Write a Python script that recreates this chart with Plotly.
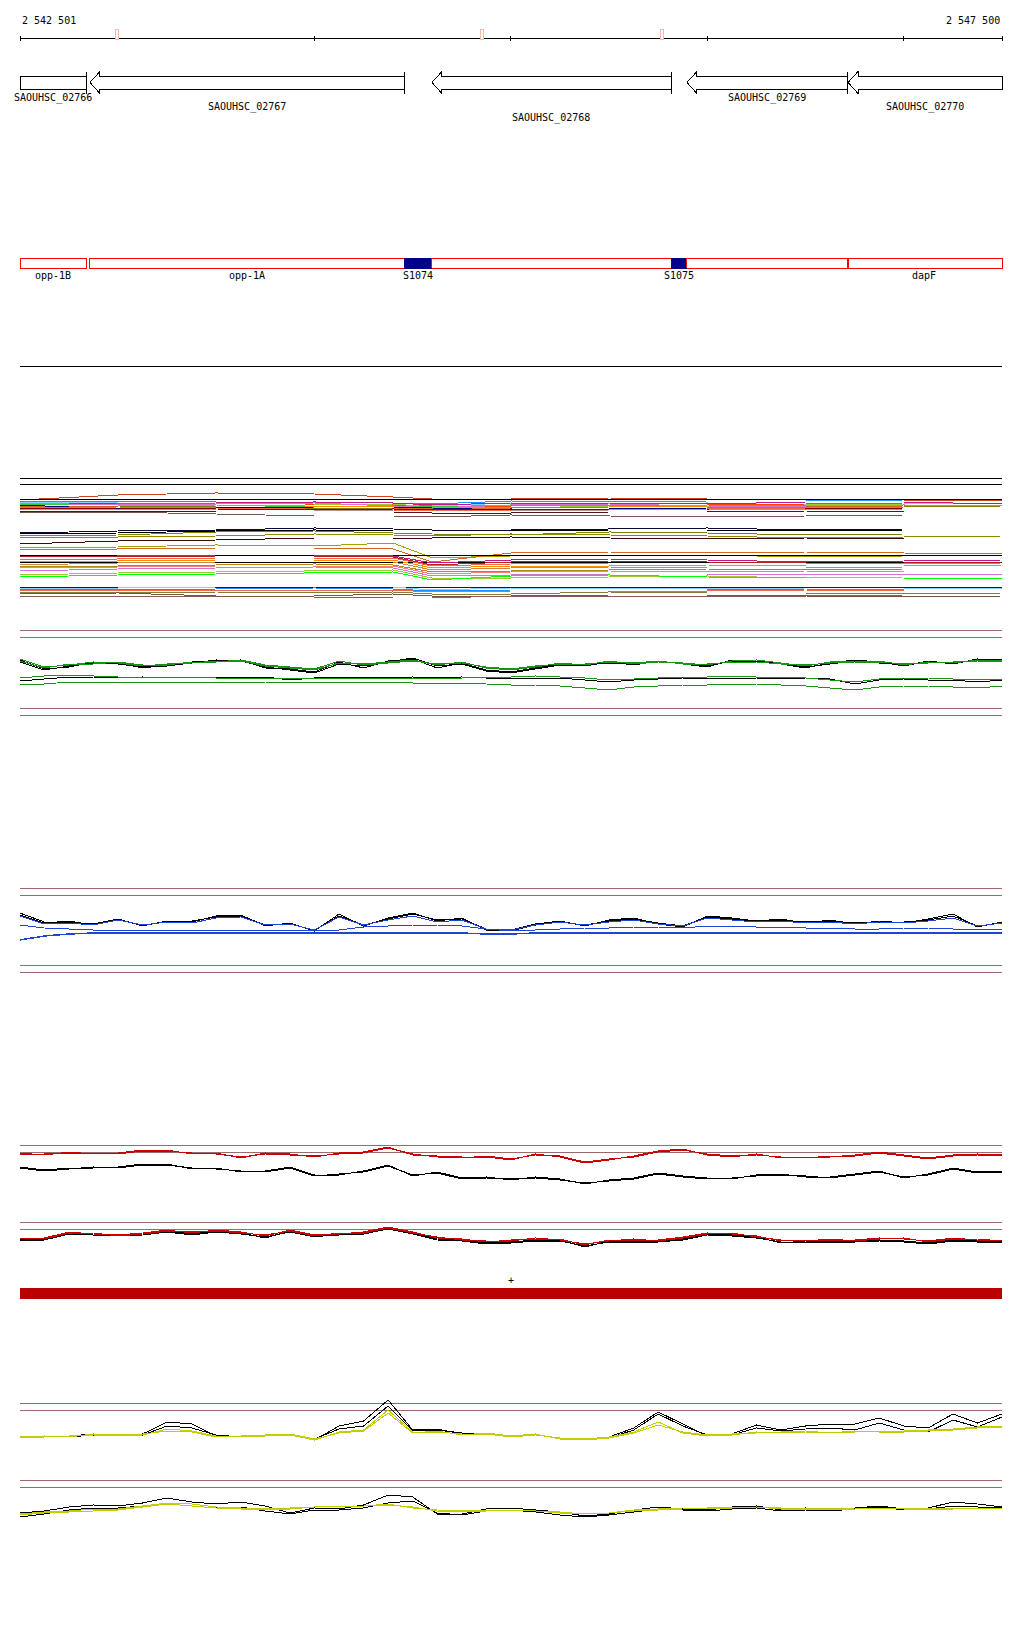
import plotly.graph_objects as go

W, H = 1024, 1640
X0, X1 = 2542501, 2547500

# ---------------- ruler ----------------
RULER_TICKS = [2542501, 2544000, 2545000, 2546000, 2547000, 2547500]
RULER_LEFT_LABEL = "2 542 501"
RULER_RIGHT_LABEL = "2 547 500"
RULER_MARKS = [2542995, 2544853, 2545768]

# ---------------- genes (reverse strand) ----------------
GENE_NAMES = ["SAOUHSC_02766", "SAOUHSC_02767", "SAOUHSC_02768", "SAOUHSC_02769", "SAOUHSC_02770"]
GENE_LEFT = [2542501, 2542857, 2544598, 2545896, 2546716]
GENE_RIGHT = [2542842, 2544456, 2545815, 2546711, 2547500]
GENE_HAS_HEAD = [False, True, True, True, True]
GENE_HAS_START = [True, True, True, True, False]

# ---------------- features ----------------
FEAT_NAMES = ["opp-1B", "opp-1A", "dapF"]
FEAT_LEFT = [2542501, 2542857, 2546721]
FEAT_RIGHT = [2542842, 2546711, 2547500]
FEAT_LABEL_X = [2542669, 2543657, 2547103]
SRNA_NAMES = ["S1074", "S1075"]
SRNA_LEFT = [2544456, 2545815]
SRNA_RIGHT = [2544598, 2545896]

# ---------------- multi-colour track ----------------
COLOR_X = [2542501, 2543000, 2543500, 2544000, 2544400, 2544600, 2545000,
           2545500, 2546000, 2546500, 2547000, 2547500]
COLOR_LINE_COLORS = [
    "#000000", "#000000", "#CC4422", "#000000", "#1E90FF", "#87CEFA", "#FF4500",
    "#C71585", "#9ACD32", "#32CD32", "#DA70D6", "#FF8C00", "#808000", "#D2691E",
    "#000080", "#FF6347", "#8B0000", "#BC8F8F", "#4A1A1A", "#795548",
    "#0A0A33", "#000000", "#808000", "#8B8B00", "#3B0A0A",
    "#A0A000", "#D2691E", "#000000", "#000000", "#C71585", "#B22222", "#FF6347",
    "#FF8C00", "#CD853F", "#B8860B", "#FA8072", "#DA70D6", "#9ACD32", "#00FF00",
    "#1A1A40", "#87CEFA", "#1E90FF", "#FF6347", "#808040", "#795548", "#8B5A5A",
]
COLOR_LINE_VALUES = [
    [122] * 12,
    [116] * 12,
    [100, 105, 107, 106, 103, 101, 101, 102, 101, 100, 100, 100],
    [101] * 12,
    [99, 99, 98, 98, 97, 96, 99, 98, 99, 99, 100, 100],
    [98, 97, 97, 96, 95, 94, 97, 96, 97, 95, 96, 97],
    [97, 96, 97, 96, 95, 94, 94, 95, 95, 96, 97, 97],
    [96, 97, 97, 98, 97, 95, 97, 97, 96, 98, 98, 96],
    [95, 96, 95, 95, 96, 93, 92, 94, 93, 95, 96, 96],
    [96, 96, 95, 93, 94, 93, 95, 94, 95, 94, 94, 95],
    [97, 95, 96, 97, 94, 92, 95, 96, 94, 93, 95, 94],
    [94, 94, 95, 94, 93, 92, 93, 93, 94, 94, 95, 95],
    [93, 94, 93, 92, 91, 90, 91, 91, 92, 92, 93, 94],
    [94, 93, 93, 92, 92, 91, 92, 93, 93, 93, 94, 94],
    [95, 91, 92, 93, 93, 92, 90, 91, 92, 91, 92, 92],
    [92, 93, 92, 91, 90, 89, 90, 91, 91, 92, 93, 93],
    [91, 92, 91, 90, 91, 90, 91, 90, 90, 91, 92, 92],
    [91, 91, 90, 90, 89, 89, 89, 90, 91, 90, 91, 91],
    [89, 89, 88, 88, 88, 87, 87, 88, 88, 89, 88, 88],
    [88, 88, 86, 84, 84, 83, 85, 84, 83, 84, 85, 85],
    [67, 69, 70, 72, 71, 70, 70, 71, 72, 70, 71, 71],
    [66, 67, 69, 70, 69, 69, 69, 70, 70, 69, 70, 70],
    [64, 65, 68, 69, 67, 66, 65, 68, 67, 65, 66, 66],
    [63, 63, 64, 66, 65, 64, 66, 65, 64, 62, 63, 64],
    [56, 59, 60, 62, 62, 62, 63, 62, 61, 62, 61, 61],
    [52, 53, 55, 54, 57, 42, 44, 45, 45, 43, 44, 44],
    [50, 51, 52, 52, 51, 38, 47, 48, 47, 48, 47, 46],
    [45] * 12,
    [38] * 12,
    [43, 44, 45, 45, 44, 37, 40, 41, 40, 38, 39, 40],
    [44, 43, 44, 44, 43, 35, 38, 39, 38, 37, 37, 38],
    [40, 41, 42, 42, 42, 34, 36, 37, 37, 37, 36, 37],
    [38, 39, 40, 40, 40, 32, 34, 34, 35, 34, 34, 35],
    [35, 37, 38, 38, 38, 30, 32, 33, 32, 32, 33, 33],
    [34, 34, 35, 36, 35, 28, 29, 30, 31, 30, 31, 31],
    [32, 33, 34, 34, 34, 26, 28, 29, 28, 29, 28, 28],
    [29, 31, 32, 33, 32, 24, 25, 26, 26, 26, 26, 25],
    [25, 27, 28, 29, 30, 22, 22, 23, 24, 22, 23, 23],
    [23, 25, 26, 27, 28, 20, 24, 25, 23, 22, 22, 21],
    [13] * 12,
    [12, 12, 13, 13, 13, 10, 12, 12, 11, 12, 12, 11],
    [11, 10, 11, 12, 11, 9, 10, 10, 10, 11, 10, 10],
    [10, 10, 10, 10, 10, 8, 9, 9, 9, 10, 9, 9],
    [8, 7, 8, 7, 8, 6, 6, 8, 7, 7, 6, 7],
    [6, 7, 4, 4, 6, 4, 4, 5, 5, 4, 3, 4],
    [4, 4, 3, 3, 2, 2, 4, 4, 4, 4, 5, 5],
]

# ---------------- signal tracks (41 positions, every 125 bp) ----------------
POS = list(range(2542500, 2547501, 125))

GREEN_THRESH = [90, 83, 12, 5]
GREEN_BLACK_1 = [60, 51, 53, 58, 57, 52, 55, 58, 59, 60, 52, 51, 48, 58, 52, 59, 61, 52, 57, 50, 48, 52, 56, 54, 58, 55, 59, 56, 53, 60, 59, 56, 52, 57, 60, 58, 54, 59, 56, 61, 60]
GREEN_BLACK_2 = [58, 50, 54, 57, 56, 53, 54, 57, 60, 59, 53, 50, 47, 56, 54, 58, 62, 54, 56, 49, 47, 51, 55, 55, 57, 56, 58, 57, 54, 59, 58, 57, 53, 56, 59, 57, 55, 58, 57, 60, 59]
GREEN_GREEN_1 = [61, 53, 55, 58, 57, 54, 56, 57, 59, 59, 54, 52, 50, 57, 56, 58, 60, 55, 58, 52, 50, 53, 57, 55, 59, 56, 58, 57, 55, 59, 60, 57, 54, 58, 59, 59, 55, 58, 57, 60, 59]
GREEN_GREEN_2 = [59, 52, 56, 56, 58, 55, 55, 58, 58, 60, 55, 53, 51, 59, 55, 57, 59, 56, 57, 53, 51, 54, 56, 56, 58, 57, 59, 56, 56, 58, 58, 56, 55, 57, 58, 58, 56, 57, 58, 59, 58]
GREEN_BLACK_3 = [39, 41, 43, 43, 42, 43, 42, 43, 43, 43, 43, 40, 42, 43, 43, 42, 43, 42, 43, 42, 42, 41, 42, 40, 38, 40, 41, 42, 41, 42, 42, 41, 42, 41, 36, 40, 41, 40, 40, 38, 40]
GREEN_GREEN_3 = [35, 36, 38, 38, 38, 38, 38, 38, 38, 38, 38, 37, 38, 38, 38, 38, 37, 37, 37, 36, 35, 35, 34, 32, 30, 33, 34, 35, 35, 36, 36, 35, 34, 32, 30, 33, 34, 34, 33, 32, 34]
GREEN_GREEN_4 = [42, 44, 45, 44, 43, 43, 43, 43, 42, 42, 42, 42, 42, 42, 42, 42, 42, 42, 42, 43, 43, 44, 43, 42, 40, 41, 42, 43, 43, 44, 43, 43, 42, 40, 38, 41, 42, 42, 41, 40, 41]

BLUE_THRESH = [92, 85, 15, 8]
BLUE_BLACK_1 = [67, 58, 58, 56, 61, 54, 59, 58, 64, 65, 54, 57, 49, 66, 54, 62, 67, 59, 62, 50, 50, 56, 59, 54, 60, 62, 56, 53, 64, 62, 59, 61, 57, 60, 56, 59, 57, 61, 66, 53, 58]
BLUE_BLACK_2 = [65, 57, 59, 55, 60, 55, 58, 59, 63, 64, 55, 56, 50, 64, 55, 61, 66, 60, 61, 51, 49, 55, 58, 55, 59, 61, 57, 54, 63, 61, 58, 60, 58, 59, 57, 58, 58, 60, 64, 54, 57]
BLUE_BLUE_1 = [64, 56, 57, 55, 60, 55, 58, 57, 62, 63, 55, 56, 50, 63, 55, 60, 64, 58, 60, 51, 50, 55, 58, 55, 58, 60, 56, 54, 62, 60, 58, 59, 57, 58, 56, 58, 57, 59, 62, 54, 57]
BLUE_BLUE_2 = [55, 52, 51, 50, 50, 50, 50, 50, 50, 50, 50, 50, 50, 50, 53, 54, 55, 55, 54, 51, 49, 50, 51, 52, 52, 53, 53, 52, 54, 54, 53, 53, 52, 52, 51, 51, 52, 52, 51, 50, 51]
BLUE_BLUE_3 = [40, 44, 46, 47, 47, 47, 47, 47, 47, 47, 47, 47, 47, 47, 47, 47, 47, 47, 47, 46, 46, 47, 47, 47, 47, 47, 47, 47, 47, 47, 47, 47, 47, 47, 47, 47, 47, 47, 47, 47, 47]

RED1_THRESH = [45, 38]
RED1_RED_1 = [37, 35, 38, 36, 37, 40, 40, 36, 37, 32, 37, 36, 33, 37, 38, 43, 35, 34, 33, 33, 30, 36, 33, 27, 30, 34, 39, 41, 35, 33, 36, 32, 33, 33, 35, 38, 35, 32, 35, 36, 35]
RED1_RED_2 = [36, 36, 37, 37, 36, 39, 39, 37, 36, 33, 36, 35, 34, 36, 37, 42, 36, 33, 32, 34, 31, 35, 34, 28, 31, 33, 38, 40, 36, 34, 35, 33, 32, 34, 34, 37, 34, 31, 34, 35, 34]
RED1_BLACK_1 = [23, 20, 22, 22, 23, 26, 26, 21, 22, 18, 19, 23, 15, 15, 19, 25, 14, 18, 12, 13, 10, 13, 11, 6, 10, 12, 17, 14, 12, 11, 15, 16, 13, 13, 16, 19, 12, 16, 22, 18, 19]
RED1_BLACK_2 = [22, 19, 21, 23, 22, 25, 25, 22, 21, 19, 18, 22, 14, 16, 18, 24, 15, 17, 11, 12, 11, 12, 10, 7, 9, 11, 16, 13, 11, 12, 14, 15, 14, 12, 15, 18, 13, 15, 21, 17, 18]

RED2_THRESH = [38, 31]
RED2_RED_1 = [21, 22, 28, 26, 25, 27, 30, 27, 30, 28, 24, 30, 25, 26, 28, 33, 28, 22, 21, 18, 20, 21, 21, 15, 20, 20, 20, 23, 27, 26, 24, 19, 20, 20, 20, 22, 21, 19, 22, 20, 20]
RED2_RED_2 = [22, 21, 27, 27, 24, 26, 29, 28, 29, 27, 25, 29, 24, 27, 27, 32, 27, 23, 20, 19, 19, 22, 20, 16, 19, 21, 19, 22, 26, 27, 23, 20, 19, 21, 19, 21, 22, 18, 21, 21, 19]
RED2_BLACK_1 = [20, 21, 27, 25, 25, 26, 29, 26, 29, 27, 22, 29, 24, 25, 27, 32, 27, 21, 20, 17, 18, 20, 20, 13, 19, 19, 19, 21, 26, 25, 23, 17, 19, 19, 19, 20, 19, 17, 20, 19, 19]
RED2_BLACK_2 = [19, 20, 26, 26, 24, 25, 28, 25, 28, 26, 23, 28, 23, 26, 26, 31, 26, 20, 19, 16, 17, 19, 19, 14, 18, 18, 18, 20, 25, 24, 22, 18, 18, 18, 18, 19, 18, 16, 19, 18, 18]

YEL1_THRESH = [47, 40]
YEL1_BLACK_1 = [13, 13, 14, 16, 14, 16, 28, 26, 14, 14, 15, 16, 10, 24, 29, 50, 20, 21, 16, 17, 13, 16, 11, 10, 13, 22, 38, 26, 14, 16, 25, 20, 24, 26, 26, 32, 24, 22, 36, 27, 36]
YEL1_BLACK_2 = [12, 14, 13, 15, 15, 15, 24, 22, 15, 13, 14, 15, 11, 21, 24, 44, 19, 20, 17, 16, 14, 15, 12, 11, 12, 20, 36, 24, 15, 15, 22, 19, 21, 22, 20, 27, 20, 18, 30, 23, 33]
YEL1_YEL_1 = [12, 13, 14, 15, 14, 15, 21, 19, 14, 13, 14, 15, 10, 18, 20, 40, 18, 18, 16, 16, 13, 15, 12, 11, 13, 18, 28, 17, 14, 15, 18, 17, 18, 18, 18, 19, 19, 20, 21, 23, 24]
YEL1_YEL_2 = [13, 14, 13, 16, 15, 16, 19, 18, 13, 14, 15, 16, 11, 17, 19, 37, 17, 19, 15, 17, 14, 16, 11, 10, 12, 17, 25, 18, 15, 16, 17, 18, 19, 17, 19, 18, 18, 19, 20, 22, 23]

YEL2_THRESH = [45, 38]
YEL2_BLACK_1 = [12, 14, 18, 20, 19, 22, 27, 23, 21, 23, 19, 12, 17, 16, 20, 30, 28, 11, 11, 16, 17, 15, 13, 9, 11, 15, 18, 16, 15, 18, 19, 15, 17, 15, 17, 19, 16, 17, 23, 21, 18]
YEL2_BLACK_2 = [8, 11, 15, 17, 17, 19, 22, 21, 18, 18, 14, 11, 15, 15, 17, 22, 24, 12, 10, 14, 15, 13, 10, 8, 10, 13, 16, 15, 14, 16, 17, 14, 15, 14, 16, 18, 15, 16, 19, 18, 17]
YEL2_YEL_1 = [10, 12, 13, 14, 15, 18, 21, 19, 17, 16, 16, 16, 18, 19, 19, 20, 18, 14, 14, 14, 15, 14, 13, 11, 12, 14, 15, 16, 17, 18, 18, 16, 16, 16, 17, 17, 16, 16, 16, 17, 17]
YEL2_YEL_2 = [11, 13, 14, 16, 16, 19, 22, 21, 18, 17, 17, 17, 18, 19, 19, 21, 17, 15, 14, 15, 15, 14, 12, 11, 12, 15, 16, 17, 17, 17, 18, 17, 17, 16, 16, 17, 17, 17, 17, 16, 17]

# ---------------- styles / layout constants ----------------
FONT = "DejaVu Sans Mono"
BROWN = "#9C6A6A"
GREEN = "#139613"
BLUE = "#1F45D6"
RED = "#CC0000"
YELLOW = "#C4CC00"
BAR_RED = "#BB0000"
GENE_ROWS_Y = [98, 107, 118, 98, 107]
X_PAD = 5  # small right padding so edge strokes are not clipped

# track pixel bands (top, bottom) -> y axes
TRACKS = {
    "y2": (470, 600),
    "y3": (625, 720),
    "y4": (880, 980),
    "y5": (1140, 1190),
    "y6": (1215, 1260),
    "y7": (1395, 1450),
    "y8": (1475, 1525),
}

fig = go.Figure()


def line(x, y, color, axis="y", width=1):
    fig.add_trace(go.Scatter(x=x, y=y, mode="lines", yaxis=axis, xaxis="x",
                             line=dict(color=color, width=width),
                             hoverinfo="skip", showlegend=False))


# ruler
line([X0, X1], [38, 38], "#000000")
tx, ty = [], []
for t in RULER_TICKS:
    tx += [t, t, None]
    ty += [35.5, 41, None]
line(tx, ty, "#000000")

# genes
for i, name in enumerate(GENE_NAMES):
    l, r = GENE_LEFT[i], GENE_RIGHT[i]
    c = 82.5
    if GENE_HAS_HEAD[i]:
        hl = 51
        xs = [l, l + hl, l + hl, r, r, l + hl, l + hl, l]
        ys = [c, c - 11, c - 6.5, c - 6.5, c + 6.5, c + 6.5, c + 11, c]
    else:
        xs = [l, r, r, l, l]
        ys = [c - 6.5, c - 6.5, c + 6.5, c + 6.5, c - 6.5]
    fig.add_trace(go.Scatter(x=xs, y=ys, mode="lines", fill="toself", fillcolor="#FFFFFF",
                             line=dict(color="#000000", width=1), yaxis="y",
                             hoverinfo="skip", showlegend=False))
    if GENE_HAS_START[i]:
        line([r, r], [c - 11, c + 11], "#000000")

# features
for i in range(len(FEAT_NAMES)):
    l, r = FEAT_LEFT[i], FEAT_RIGHT[i]
    fig.add_trace(go.Scatter(x=[l, r, r, l, l], y=[258, 258, 268, 268, 258], mode="lines",
                             line=dict(color="#FF0000", width=1), yaxis="y",
                             hoverinfo="skip", showlegend=False))
for i in range(len(SRNA_NAMES)):
    l, r = SRNA_LEFT[i], SRNA_RIGHT[i]
    fig.add_trace(go.Scatter(x=[l, r, r, l, l], y=[258, 258, 268.5, 268.5, 258], mode="lines",
                             fill="toself", fillcolor="#000088",
                             line=dict(color="#000088", width=1), yaxis="y",
                             hoverinfo="skip", showlegend=False))
    line([r, r], [258, 268], "#FF0000")

# separator
line([X0, X1], [366, 366], "#000000")

# multicolour track
for col, vals in zip(COLOR_LINE_COLORS, COLOR_LINE_VALUES):
    line(COLOR_X, vals, col, axis="y2")


def thresholds(vals, axis):
    for v in vals:
        line([X0, X1], [v, v], BROWN, axis=axis)


thresholds(GREEN_THRESH, "y3")
for s in (GREEN_BLACK_1, GREEN_BLACK_2, GREEN_BLACK_3):
    line(POS, s, "#000000", axis="y3")
for s in (GREEN_GREEN_1, GREEN_GREEN_2, GREEN_GREEN_3, GREEN_GREEN_4):
    line(POS, s, GREEN, axis="y3")

thresholds(BLUE_THRESH, "y4")
for s in (BLUE_BLACK_1, BLUE_BLACK_2):
    line(POS, s, "#000000", axis="y4")
for s in (BLUE_BLUE_1, BLUE_BLUE_2):
    line(POS, s, BLUE, axis="y4")
line(POS, BLUE_BLUE_3, BLUE, axis="y4", width=1.5)

thresholds(RED1_THRESH, "y5")
for s in (RED1_BLACK_1, RED1_BLACK_2):
    line(POS, s, "#000000", axis="y5")
for s in (RED1_RED_1, RED1_RED_2):
    line(POS, s, RED, axis="y5")

thresholds(RED2_THRESH, "y6")
for s in (RED2_BLACK_1, RED2_BLACK_2):
    line(POS, s, "#000000", axis="y6")
for s in (RED2_RED_1, RED2_RED_2):
    line(POS, s, RED, axis="y6")

thresholds(YEL1_THRESH, "y7")
for s in (YEL1_BLACK_1, YEL1_BLACK_2):
    line(POS, s, "#000000", axis="y7")
for s in (YEL1_YEL_1, YEL1_YEL_2):
    line(POS, s, YELLOW, axis="y7")

thresholds(YEL2_THRESH, "y8")
for s in (YEL2_BLACK_1, YEL2_BLACK_2):
    line(POS, s, "#000000", axis="y8")
for s in (YEL2_YEL_1, YEL2_YEL_2):
    line(POS, s, YELLOW, axis="y8")

# shapes: ruler marks and red bar
shapes = []
for m in RULER_MARKS:
    shapes.append(dict(type="rect", xref="x", yref="y", x0=m - 9, x1=m + 9, y0=29, y1=39.5,
                       line=dict(color="#F4B8A6", width=1), fillcolor="#FFFFFF", layer="above"))
shapes.append(dict(type="rect", xref="x", yref="y", x0=X0, x1=X1, y0=1288, y1=1299,
                   line=dict(width=0), fillcolor=BAR_RED, layer="above"))

# annotations
ann = []
tf = dict(family=FONT, size=10, color="#000000")
ann.append(dict(x=X0, y=20, xref="x", yref="y", text=RULER_LEFT_LABEL, showarrow=False,
                xanchor="left", yanchor="middle", font=tf))
ann.append(dict(x=X1, y=20, xref="x", yref="y", text=RULER_RIGHT_LABEL, showarrow=False,
                xanchor="right", yanchor="middle", font=tf))
for i, name in enumerate(GENE_NAMES):
    ann.append(dict(x=(GENE_LEFT[i] + GENE_RIGHT[i]) / 2, y=GENE_ROWS_Y[i], xref="x", yref="y",
                    text=name, showarrow=False, xanchor="center", yanchor="middle", font=tf))
for i, name in enumerate(FEAT_NAMES):
    ann.append(dict(x=FEAT_LABEL_X[i], y=275, xref="x", yref="y", text=name, showarrow=False,
                    xanchor="center", yanchor="middle", font=tf))
for i, name in enumerate(SRNA_NAMES):
    ann.append(dict(x=(SRNA_LEFT[i] + SRNA_RIGHT[i]) / 2, y=275, xref="x", yref="y", text=name,
                    showarrow=False, xanchor="center", yanchor="middle", font=tf))
ann.append(dict(x=(X0 + X1) / 2, y=1280, xref="x", yref="y", text="+", showarrow=False,
                xanchor="center", yanchor="middle", font=tf))

layout = dict(
    width=W, height=H,
    margin=dict(l=20, r=21, t=0, b=0, pad=0),
    paper_bgcolor="#FFFFFF", plot_bgcolor="rgba(0,0,0,0)",
    showlegend=False,
    xaxis=dict(range=[X0, X1 + X_PAD], domain=[0, 1], visible=False, fixedrange=True),
    yaxis=dict(range=[H, 0], domain=[0, 1], visible=False, fixedrange=True),
    shapes=shapes, annotations=ann,
)
for ax, (top, bot) in TRACKS.items():
    key = "yaxis" + ax[1:]
    layout[key] = dict(range=[0, bot - top], domain=[1 - bot / H, 1 - top / H],
                       anchor="x", visible=False, fixedrange=True)
fig.update_layout(**layout)

POST = (
    "var s=document.createElement('style');"
    "s.innerHTML='.js-plotly-plot path{shape-rendering:crispEdges;}';"
    "document.head.appendChild(s);"
    "document.body.style.margin='0';"
)
fig.write_html("out.html", config={"displayModeBar": False, "staticPlot": True},
               post_script=POST)
